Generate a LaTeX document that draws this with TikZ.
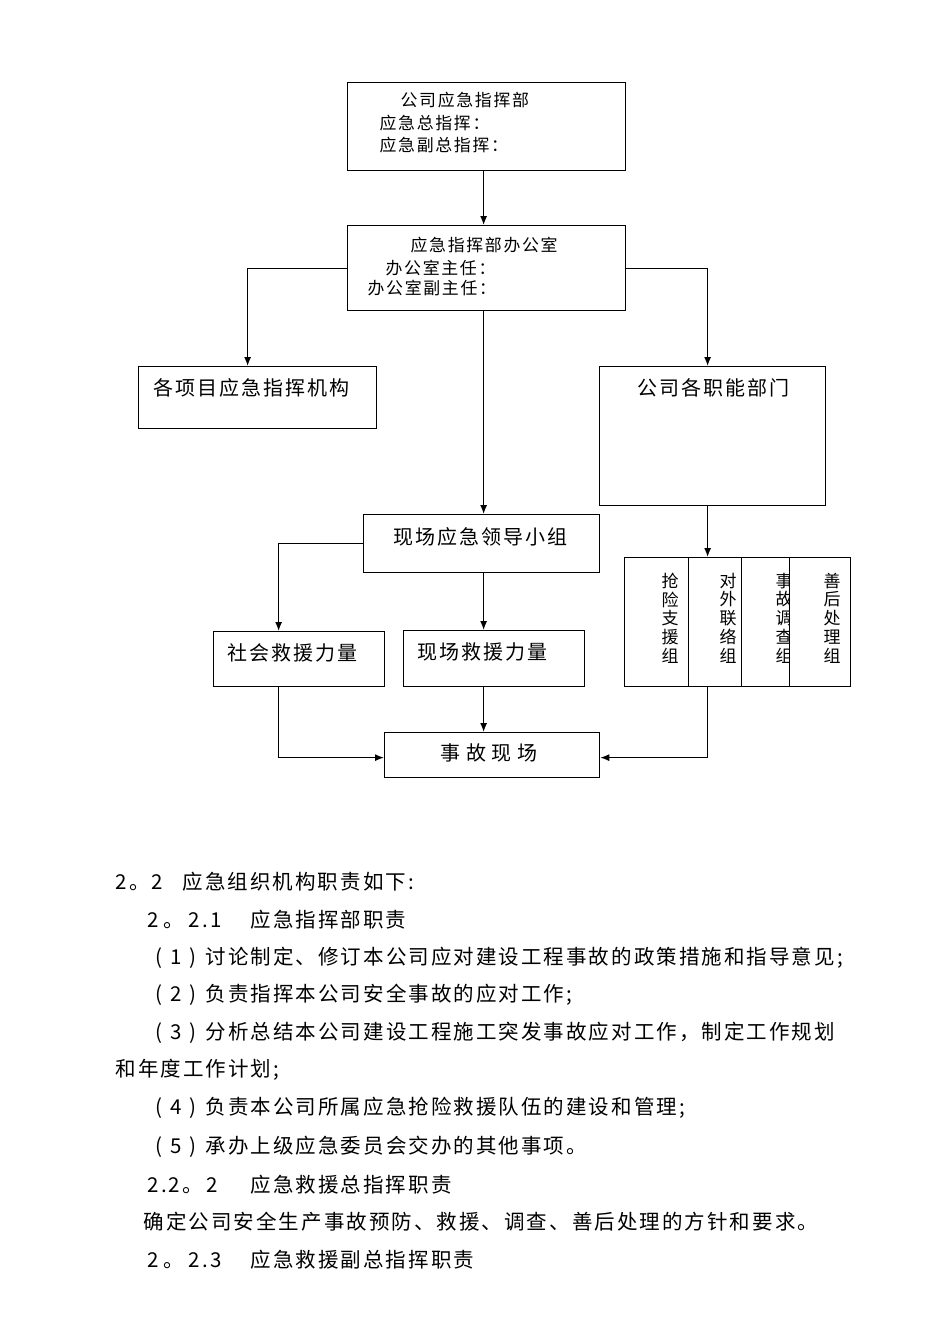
\documentclass[tikz,border=0pt]{standalone}
\usepackage{fontspec}
\setmainfont[LetterSpace=10]{Noto Sans CJK SC}
\usepackage{tikz}
\usetikzlibrary{arrows.meta,calc,positioning}
\tikzset{
  org chart/.style = {
    x = 1pt, y = -1pt,
    line width = 1.25pt,
    % 方框
    blk/.style  = {draw, fill=white, inner sep=0pt, anchor=north west},
    % 文字
    txt/.style  = {anchor=west, inner sep=0pt, font=\fontsize{20}{24}\selectfont},
    stxt/.style = {txt, font=\fontsize{16.9}{22}\selectfont},
    vtxt/.style = {inner sep=0pt, align=center, font=\fontsize{17}{18.7}\selectfont},
    para/.style = {txt, font=\fontsize{20.5}{24}\selectfont},
    % 箭头
    connect line/.style = {-{Latex[length=9pt,width=7pt]}},
  }
}
\begin{document}
\begin{tikzpicture}[org chart]
\def\blkat(#1)<#2,#3> at (#4);{
  \node[blk, minimum width=#2, minimum height=#3] (#1) at (#4) {}; }
\def\pitem#1{\makebox[50pt][l]{(\hspace{8pt}#1\hspace{8pt})}}
\def\secno#1{\makebox[103pt][l]{#1}}

\fill[white] (0,0) rectangle (950,1344);
\useasboundingbox (0,0) rectangle (950,1344);

% 指挥部、办公室
\blkat(cmd)<278,88> at (347,82);
\node[stxt] (cmdA) at (400,100) {公司应急指挥部};
\node[stxt] (cmdB) at (379,123) {应急总指挥：};
\node[stxt] (cmdC) at (379,145) {应急副总指挥：};
\blkat(office)<278,85> at (347,225);
\node[stxt] (officeA) at (410,245) {应急指挥部办公室};
\node[stxt] (officeB) at (385,268) {办公室主任：};
\node[stxt] (officeC) at (367,288) {办公室副主任：};

% 第二层
\blkat(proj)<238,62> at (138,366);
\node[txt] (projT) at (153,388) {各项目应急指挥机构};
\blkat(func)<226,139> at (599,366);
\node[txt] (funcT) at (637,388) {公司各职能部门};
\blkat(lead)<236,58> at (363,514);
\node[txt] (leadT) at (393,537) {现场应急领导小组};
\blkat(social)<171,55> at (213,631);
\node[txt] (socialT) at (227,653) {社会救援力量};
\blkat(site)<181,56> at (403,630);
\node[txt] (siteT) at (417,652) {现场救援力量};
\blkat(scene)<215,45> at (384,732);
\node[txt] (sceneT) at (440,753)
  {事\hspace{5.5pt}故\hspace{5.5pt}现\hspace{5.5pt}场};

% 各小组
\blkat(g1)<64,129> at (624,557);
\blkat(g2)<53,129> at (688,557);
\blkat(g3)<59,129> at (741,557);
\node[vtxt] (g1T) at (670,618) {抢\\险\\支\\援\\组};
\node[vtxt] (g2T) at (728,618) {对\\外\\联\\络\\组};
\node[vtxt] (g3T) at (784,618) {事\\故\\调\\查\\组};
\blkat(g4)<61,129> at (789,557);
\node[vtxt] (g4T) at (832,618) {善\\后\\处\\理\\组};

% 连线
\draw[connect line] ([xshift=-3pt]cmd.south) -- ([xshift=-3pt]office.north);
\draw[connect line] (office.west) -| ([xshift=-10pt]proj.north);
\draw[connect line] (office.east) -| ([xshift=-5pt]func.north);
\draw[connect line] ([xshift=-3pt]office.south) -- ([xshift=2pt]lead.north);
\draw[connect line] (lead.west) -| ([xshift=-20.5pt]social.north);
\draw[connect line] ([xshift=2pt]lead.south) -- ([xshift=-10.5pt]site.north);
\draw[connect line] ([xshift=-10.5pt]site.south) -- ([xshift=-8.5pt]scene.north);
\draw[connect line] ([xshift=-20.5pt]social.south) |- ([yshift=-2.5pt]scene.west);
\draw[connect line] ([xshift=-5pt]func.south) -- ([xshift=-7.5pt]g2.north);
\draw[connect line] ([xshift=-7.5pt]g2.south) |- ([yshift=-2.5pt]scene.east);

% 正文
\node[para] (p1) at (115,882) {\makebox[67pt][l]{2。2}应急组织机构职责如下:};
\node[para] (p2) at (147,920)
  {\secno{2\hspace{4pt}。\hspace{5pt}2\hspace{3pt}.\hspace{2pt}1}应急指挥部职责};
\node[para] (p3) at (155,958) {\pitem{1}讨论制定、修订本公司应对建设工程事故的政策措施和指导意见;};
\node[para] (p4) at (155,995) {\pitem{2}负责指挥本公司安全事故的应对工作;};
\node[para] (p5) at (155,1033) {\pitem{3}分析总结本公司建设工程施工突发事故应对工作，制定工作规划};
\node[para] (p6) at (115,1070) {和年度工作计划;};
\node[para] (p7) at (155,1108) {\pitem{4}负责本公司所属应急抢险救援队伍的建设和管理;};
\node[para] (p8) at (155,1147) {\pitem{5}承办上级应急委员会交办的其他事项。};
\node[para] (p9) at (147,1185)
  {\secno{2.2。\hspace{4pt}2}应急救援总指挥职责};
\node[para] (p10) at (143,1222) {确定公司安全生产事故预防、救援、调查、善后处理的方针和要求。};
\node[para] (p11) at (147,1260)
  {\secno{2\hspace{4pt}。\hspace{5pt}2\hspace{3pt}.\hspace{2pt}3}应急救援副总指挥职责};
\end{tikzpicture}
\end{document}
